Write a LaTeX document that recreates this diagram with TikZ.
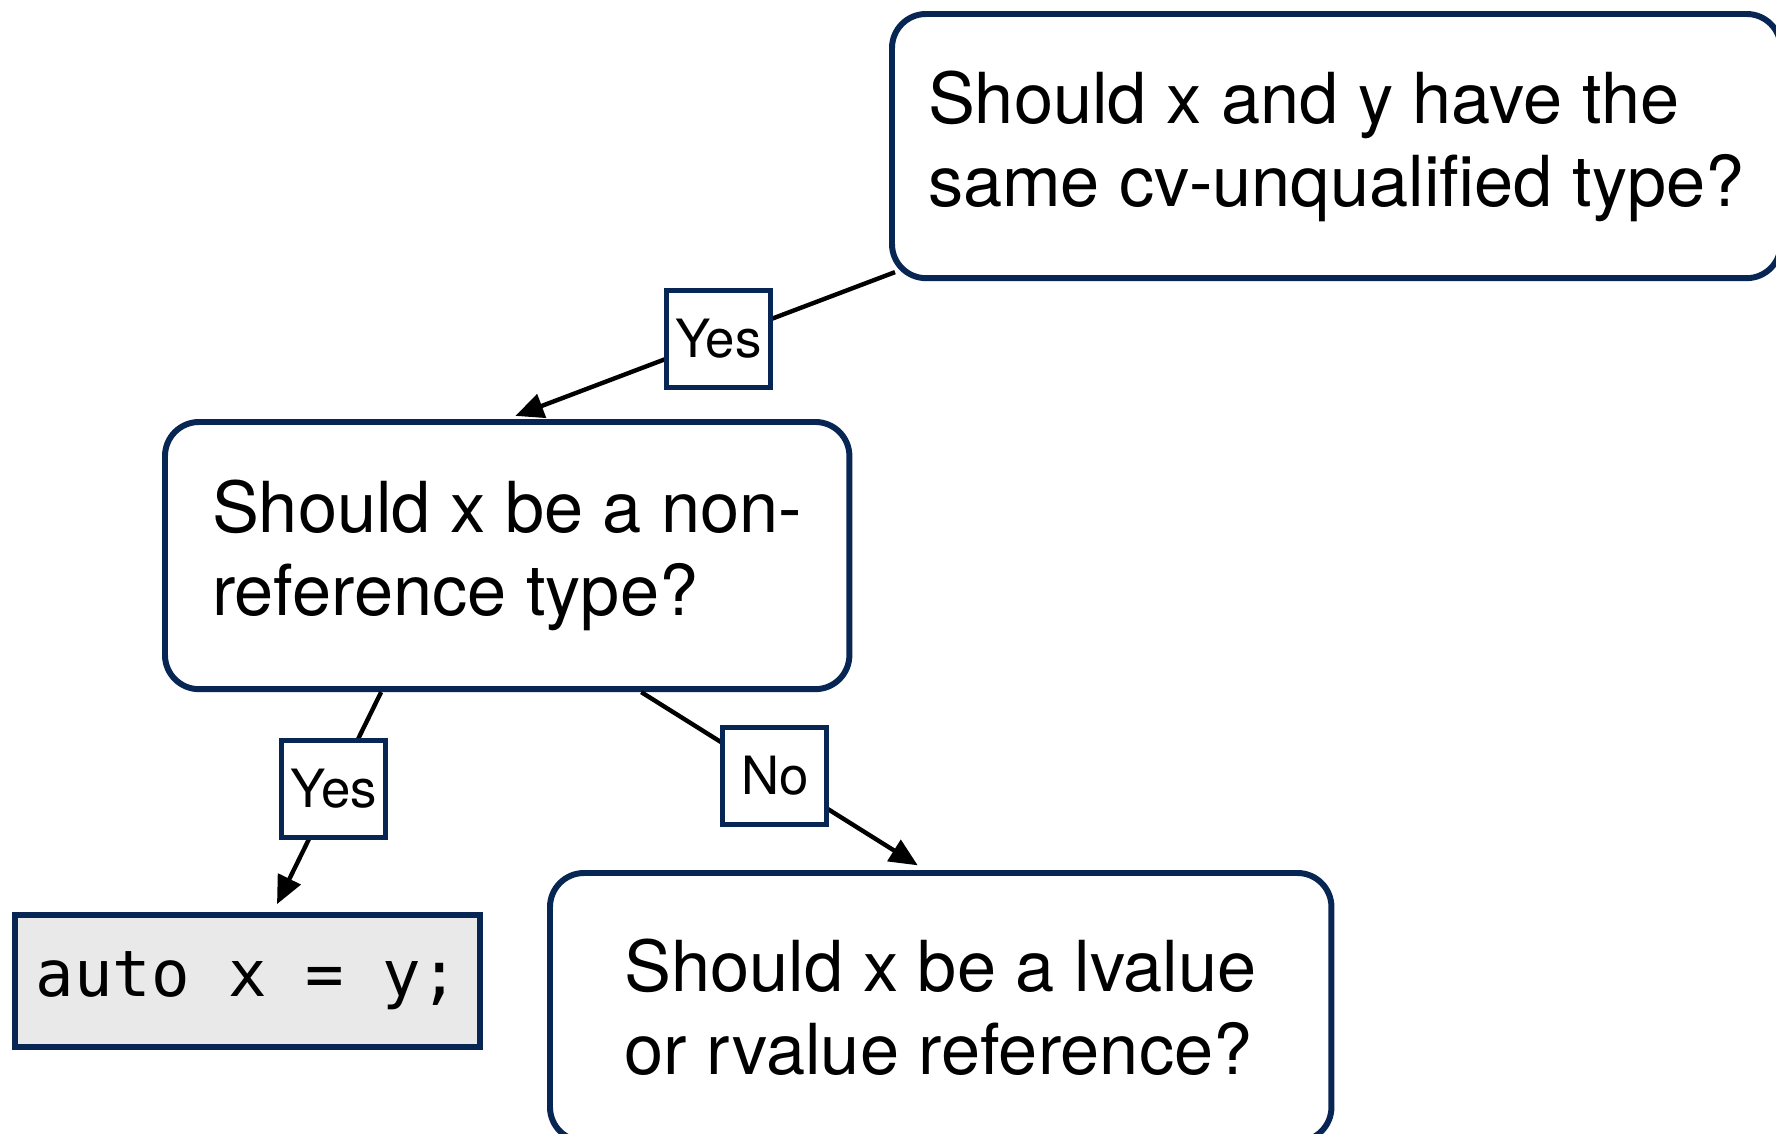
\documentclass[tikz,border=0pt]{standalone}
\usepackage{fontspec}
\setmainfont{TeX Gyre Heros}
\setmonofont{DejaVu Sans Mono}
\usetikzlibrary{arrows.meta}
\definecolor{flowNavy}{RGB}{8,38,84}
\definecolor{flowCodeFill}{RGB}{233,233,233}
\begin{document}
\begin{tikzpicture}[x=0.01cm, y=-0.01cm,
  question/.style={draw=flowNavy, line width=\flowBorderWidth, rounded corners=\flowRadius,
    align=left, inner xsep=0.36cm, anchor=north west, font=\fontsize{20}{23.6}\selectfont},
  answer/.style={draw=flowNavy, fill=flowCodeFill, line width=\flowBorderWidth,
    anchor=north west, font=\ttfamily\fontsize{18.2}{22}\selectfont},
  choice/.style={draw=flowNavy, fill=white, line width=1.5pt, inner sep=0pt,
    minimum width=1.04cm, minimum height=0.97cm, font=\fontsize{15}{18}\selectfont},
  flow/.style={line width=1.25pt, -{Triangle[length=8pt,width=7pt]}, shorten >=2.5pt}]
% Flow chart in pixel units of the page (y runs downwards)
\providecommand{\flowBorderWidth}{1.7pt}
\providecommand{\flowRadius}{0.34cm}
\useasboundingbox (0,0) rectangle (1776,1133);
% Questions
\node[question, minimum height=2.64cm] (same) at (889,11)
  {Should x and y have the\\same cv-unqualified type?};
\node[question, minimum width=6.84cm, minimum height=2.67cm] (nonref) at (162,419)
  {Should x be a non-\\reference type?};
\node[question, minimum width=7.81cm, minimum height=2.68cm] (lvalue) at (547,870)
  {Should x be a lvalue\\or rvalue reference?};
% Answer
\node[answer, minimum width=4.65cm, minimum height=1.32cm] (code) at (12,912)
  {auto x = y;};
% Connectors with their choices
\draw[flow] ([shift={(6,-9)}]same.south west) -- (nonref.north)
  node[choice, pos=0.455] (yesTop) {Yes};
\draw[flow] ([xshift=-1.26cm]nonref.south) -- ([xshift=0.255cm]code.north)
  node[choice, pos=0.44] (yesLeft) {Yes};
\draw[flow] ([xshift=1.34cm]nonref.south) -- ([xshift=-0.155cm]lvalue.north)
  node[choice, pos=0.47] (noRight) {No};
\end{tikzpicture}
\end{document}
